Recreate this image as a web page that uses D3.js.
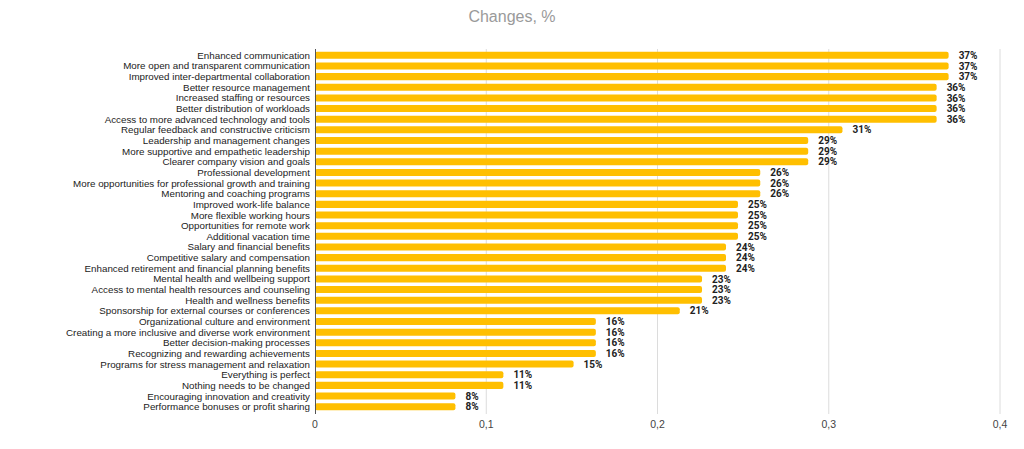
<!DOCTYPE html>
<html>
<head>
<meta charset="utf-8">
<script src="https://cdn.jsdelivr.net/npm/d3@7"></script>
<style>
  html, body { margin: 0; padding: 0; background: #fff; }
  svg { display: block; }
</style>
</head>
<body>
<svg id="chart" width="1024" height="449"></svg>
<script>
const categories = [
  "Enhanced communication",
  "More open and transparent communication",
  "Improved inter-departmental collaboration",
  "Better resource management",
  "Increased staffing or resources",
  "Better distribution of workloads",
  "Access to more advanced technology and tools",
  "Regular feedback and constructive criticism",
  "Leadership and management changes",
  "More supportive and empathetic leadership",
  "Clearer company vision and goals",
  "Professional development",
  "More opportunities for professional growth and training",
  "Mentoring and coaching programs",
  "Improved work-life balance",
  "More flexible working hours",
  "Opportunities for remote work",
  "Additional vacation time",
  "Salary and financial benefits",
  "Competitive salary and compensation",
  "Enhanced retirement and financial planning benefits",
  "Mental health and wellbeing support",
  "Access to mental health resources and counseling",
  "Health and wellness benefits",
  "Sponsorship for external courses or conferences",
  "Organizational culture and environment",
  "Creating a more inclusive and diverse work environment",
  "Better decision-making processes",
  "Recognizing and rewarding achievements",
  "Programs for stress management and relaxation",
  "Everything is perfect",
  "Nothing needs to be changed",
  "Encouraging innovation and creativity",
  "Performance bonuses or profit sharing"
];
const values = [
  0.370, 0.370, 0.370, 0.363, 0.363, 0.363, 0.363, 0.308, 0.288, 0.288, 0.288,
  0.260, 0.260, 0.260, 0.247, 0.247, 0.247, 0.247, 0.240, 0.240, 0.240,
  0.226, 0.226, 0.226, 0.213, 0.164, 0.164, 0.164, 0.164, 0.151, 0.110, 0.110,
  0.082, 0.082
];
const xTicks = [0, 0.1, 0.2, 0.3, 0.4];
const xTickLabels = ["0", "0,1", "0,2", "0,3", "0,4"];
const title = "Changes, %";

const data = categories.map((c, i) => ({ c, v: values[i] }));
const svg = d3.select("#chart");
const margin = { left: 315, right: 24, top: 50, bottom: 37 };
const W = 1024, H = 449;

const x = d3.scaleLinear().domain([0, 0.4]).range([margin.left, W - margin.right]);
const y = d3.scaleBand().domain(categories).range([margin.top, H - margin.bottom]).paddingInner(0.34).paddingOuter(0.17);

svg.append("text")
  .attr("x", 512).attr("y", 22)
  .attr("text-anchor", "middle")
  .attr("font-family", "Liberation Sans, Arial, sans-serif")
  .attr("font-size", 16)
  .attr("fill", "#9a9a9a")
  .text(title);

// gridlines
svg.append("g").selectAll("line")
  .data(xTicks.filter(t => t > 0))
  .join("line")
  .attr("x1", d => x(d)).attr("x2", d => x(d))
  .attr("y1", margin.top - 1).attr("y2", H - margin.bottom + 2)
  .attr("stroke", "#dcdcdc").attr("stroke-width", 1);

// bars
svg.append("g").selectAll("rect")
  .data(data)
  .join("rect")
  .attr("x", x(0))
  .attr("y", d => y(d.c))
  .attr("width", d => x(d.v) - x(0))
  .attr("height", y.bandwidth())
  .attr("rx", 2).attr("ry", 2)
  .attr("fill", "#ffbf00");

// axis line
svg.append("line")
  .attr("x1", x(0) + 0.5).attr("x2", x(0) + 0.5)
  .attr("y1", margin.top - 1).attr("y2", H - margin.bottom + 2)
  .attr("stroke", "#555").attr("stroke-width", 1);

// category labels
svg.append("g").selectAll("text")
  .data(data)
  .join("text")
  .attr("x", x(0) - 5)
  .attr("y", d => y(d.c) + y.bandwidth() / 2)
  .attr("dy", "0.36em")
  .attr("text-anchor", "end")
  .attr("font-family", "Liberation Sans, Arial, sans-serif")
  .attr("font-size", 9.8)
  .attr("fill", "#222")
  .text(d => d.c);

// value labels
svg.append("g").selectAll("text")
  .data(data)
  .join("text")
  .attr("x", d => x(d.v) + 10)
  .attr("y", d => y(d.c) + y.bandwidth() / 2)
  .attr("dy", "0.36em")
  .attr("font-family", "Roboto, sans-serif")
  .attr("font-weight", "bold")
  .attr("font-size", 10)
  .attr("fill", "#222")
  .text(d => Math.round(d.v * 100) + "%");

// x tick labels
svg.append("g").selectAll("text")
  .data(xTicks)
  .join("text")
  .attr("x", d => x(d))
  .attr("y", 428)
  .attr("text-anchor", "middle")
  .attr("font-family", "Liberation Sans, Arial, sans-serif")
  .attr("font-size", 10.5)
  .attr("fill", "#444")
  .text((d, i) => xTickLabels[i]);
</script>
</body>
</html>
